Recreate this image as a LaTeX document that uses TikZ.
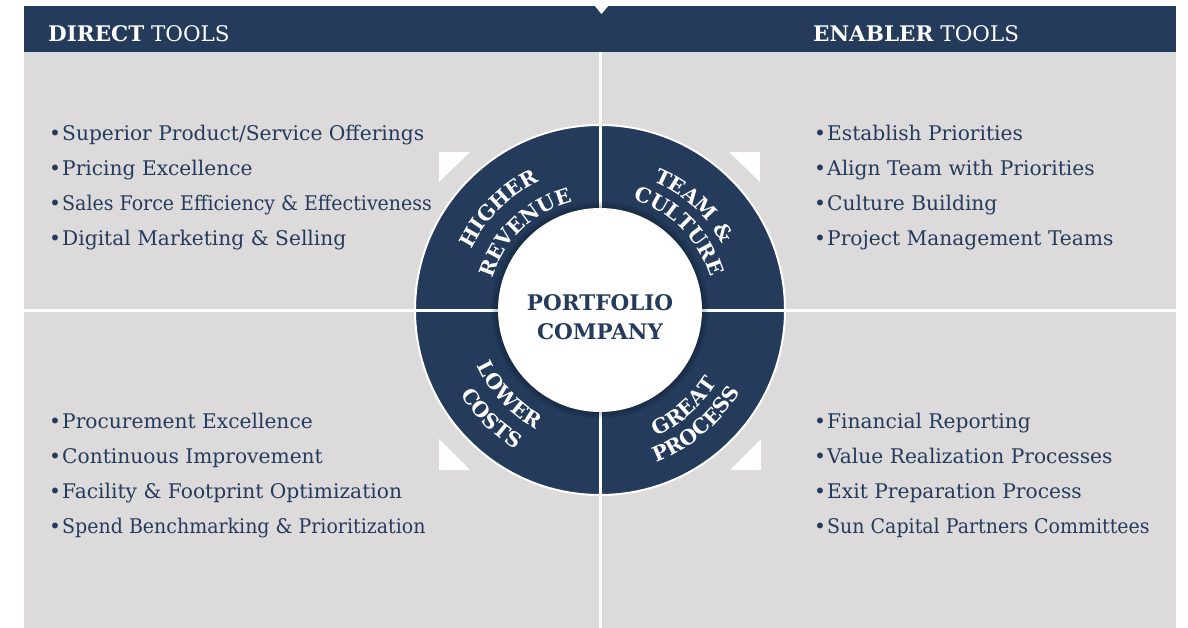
\documentclass[tikz,border=0pt]{standalone}
\usepackage{fontspec}
\setmainfont{DejaVu Serif}
\usetikzlibrary{positioning , decorations.text}
\definecolor{navy}{HTML}{243B5C}
\definecolor{panel}{HTML}{DCDADB}
\newcommand\narrow{\addfontfeature{FakeStretch = 0.94}}

\begin{document}
\begin{tikzpicture}[x = 1pt , y = -1pt ,
    head/.style = {text = white , anchor = base west , inner sep = 0pt , font = \fontsize{21.5}{24}\selectfont},
    item/.style = {text = navy , anchor = base west , inner sep = 0pt , font = \fontsize{20.2}{22}\selectfont},
    arctext/.style = {decorate , decoration = {text along path , text align = center , text color = white ,
        text format delimiters = {[}{]} , text = {[\bfseries\fontsize{20.5}{22}\selectfont]#1}}},
    corner/.style = {fill = white}]
    \useasboundingbox (0,0) rectangle (1188,628);
    % background
    \fill[panel] (24,52) rectangle (1176,628);
    \fill[navy] (24,6) rectangle (1176,52);
    \fill[white] (594,5) -- (609,5) -- (601.5,14) -- cycle; % notch
    \node[head] (direct) at (48,42) {\textbf{DIRECT} TOOLS};
    \node[head] (enabler) at (813,42) {\textbf{ENABLER} TOOLS};
    % corners
    \fill[corner] (439,152) -- (470,152) -- (439,182) -- cycle;
    \fill[corner] (760,152) -- (729,152) -- (760,182) -- cycle;
    \fill[corner] (439,470) -- (470,470) -- (439,439) -- cycle;
    \fill[corner] (761,470) -- (730,470) -- (761,439) -- cycle;
    % ring
    \fill[navy , draw = white , line width = 2pt] (600,310) circle (185pt);
    \draw[white , line width = 3pt] (600,52) -- (600,628);
    \draw[white , line width = 3pt] (24,310) -- (1176,310);
    \foreach \r in {103,...,109}
        \fill[black , opacity = 0.035] (600,310) circle (\r pt); % soft shadow
    \fill[white] (600,310) circle (102pt);
    \node[text = navy , align = center , font = \bfseries\fontsize{21.5}{29}\selectfont] (company) at (600,317) {PORTFOLIO\\COMPANY};
    \begin{scope}[shift = {(600,310)} , x = 1pt , y = 1pt]
        \path[arctext = {HIGHER}] (180:142) arc[start angle = 180 , end angle = 90 , radius = 142];
        \path[arctext = {REVENUE}] (179:112) arc[start angle = 179 , end angle = 89 , radius = 112];
        \path[arctext = {TEAM {\&}}] (93:139) arc[start angle = 93 , end angle = 3 , radius = 139];
        \path[arctext = {CULTURE}] (90:115) arc[start angle = 90 , end angle = 0 , radius = 115];
        \path[arctext = {LOWER}] (178:135) arc[start angle = 178 , end angle = 268 , radius = 135];
        \path[arctext = {COSTS}] (180:163) arc[start angle = 180 , end angle = 270 , radius = 163];
        \path[arctext = {GREAT}] (266:138) arc[start angle = 266 , end angle = 356 , radius = 138];
        \path[arctext = {PROCESS}] (265:162) arc[start angle = 265 , end angle = 355 , radius = 162];
    \end{scope}
    % lists
    \foreach \t [count = \i] in {Superior Product/Service Offerings , Pricing Excellence ,
        {\narrow Sales Force Efficiency \& Effectiveness} , Digital Marketing \& Selling}
        \node[item] (rev\i) at (49 , 105.5 + 35*\i) {\makebox[13pt][l]{\textbullet}\t};
    \foreach \t [count = \i] in {Establish Priorities , Align Team with Priorities ,
        Culture Building , Project Management Teams}
        \node[item] (cul\i) at (814 , 105.5 + 35*\i) {\makebox[13pt][l]{\textbullet}\t};
    \foreach \t [count = \i] in {Procurement Excellence , Continuous Improvement ,
        Facility \& Footprint Optimization , {\narrow Spend Benchmarking \& Prioritization}}
        \node[item] (cost\i) at (49 , 393 + 35*\i) {\makebox[13pt][l]{\textbullet}\t};
    \foreach \t [count = \i] in {Financial Reporting , Value Realization Processes ,
        Exit Preparation Process , {\narrow Sun Capital Partners Committees}}
        \node[item] (proc\i) at (814 , 393 + 35*\i) {\makebox[13pt][l]{\textbullet}\t};
\end{tikzpicture}
\end{document}
